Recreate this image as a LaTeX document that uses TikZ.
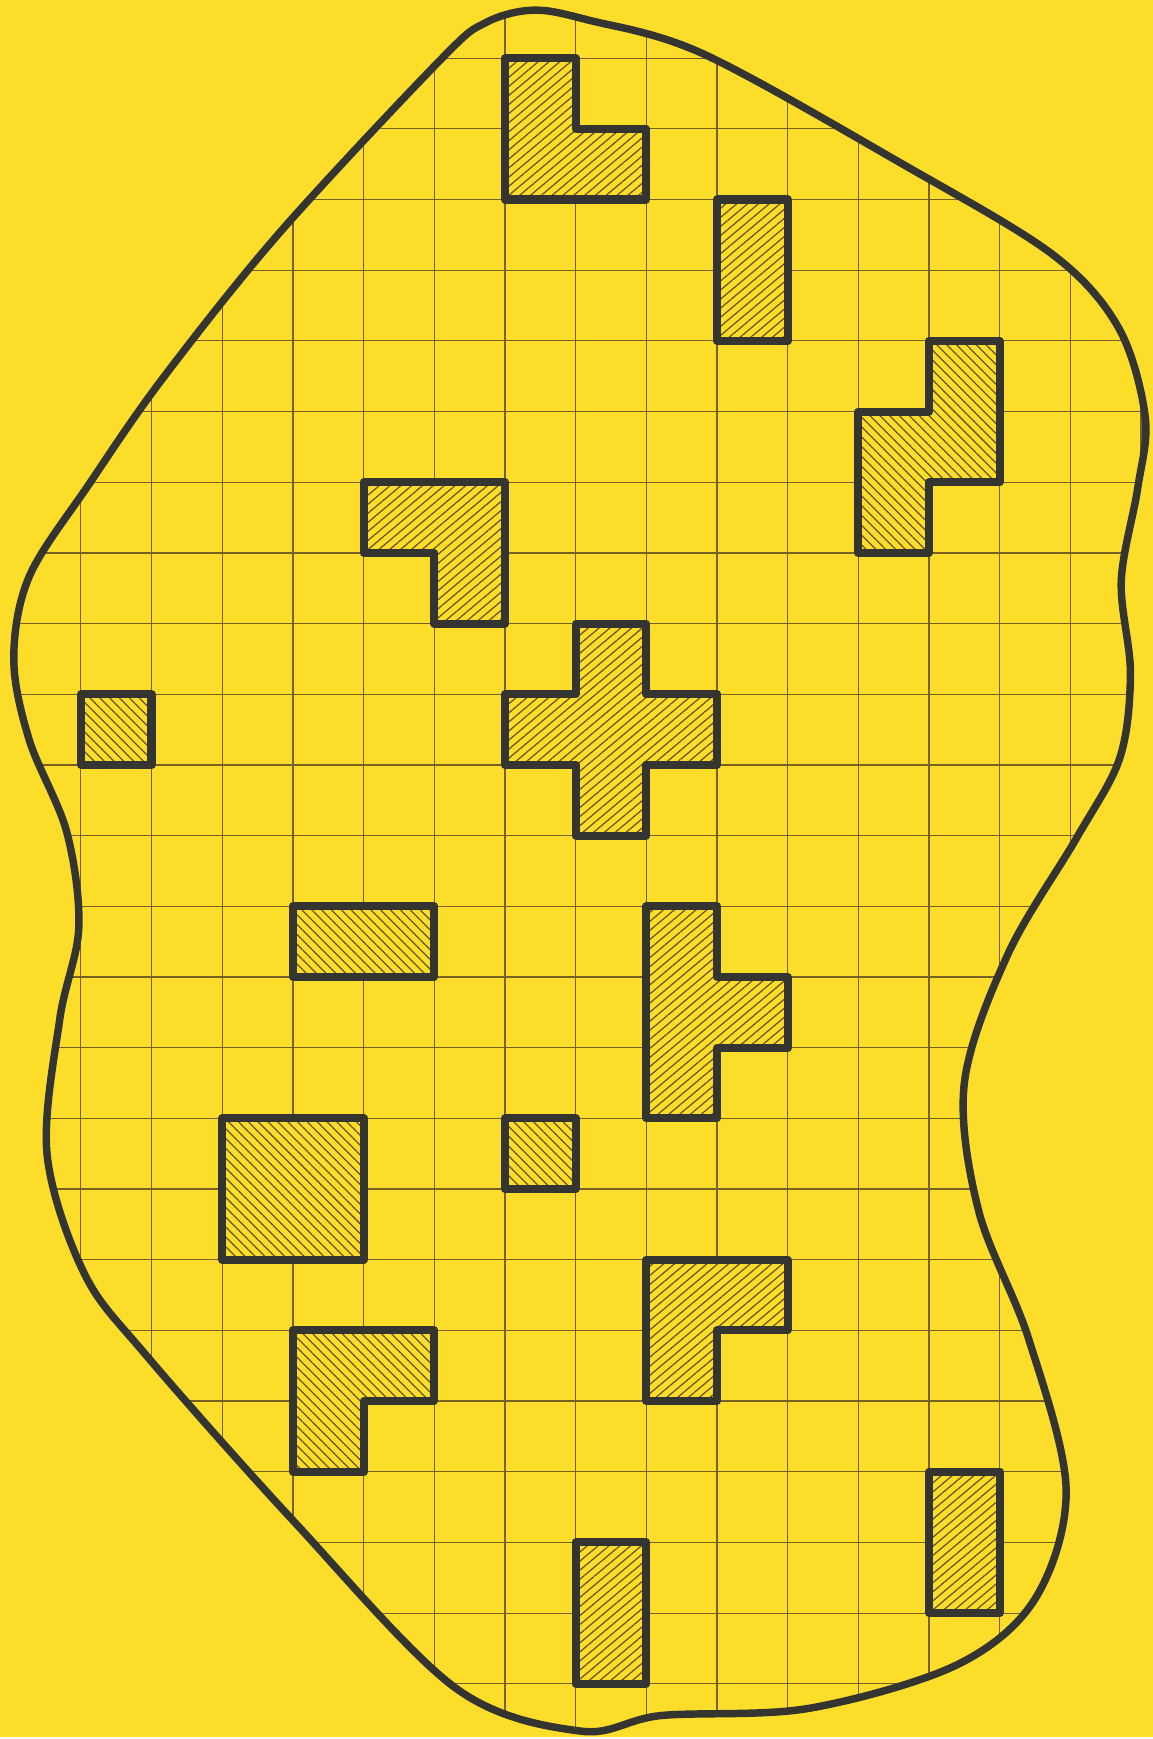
\documentclass[tikz,border=0pt]{standalone}
\usetikzlibrary{patterns.meta}
\definecolor{paper}{RGB}{252,222,42}
\definecolor{ink}{RGB}{52,52,48}
\definecolor{rule}{RGB}{120,95,35}
\definecolor{hatch}{RGB}{105,82,25}
\newcommand\blobline{plot[smooth cycle,tension=0.55] coordinates {
  (6.4,0.68) (7.18,0.54) (8.81,0.06) (11.63,-1.5) (13.74,-2.77) (14.68,-3.81)
  (15.06,-5.08) (14.95,-6.1) (14.72,-7.4) (14.85,-8.7) (14.7,-9.9) (14.09,-11.03)
  (13.12,-12.67) (12.5,-14.5) (12.7,-16.3) (13.41,-18.12) (13.94,-20.24)
  (13.5,-21.8) (12.38,-22.74) (10.29,-23.35) (8.21,-23.45) (7.07,-23.67)
  (5.3,-23.06) (3.01,-20.7) (0.93,-18.36) (0.05,-17.2) (-0.48,-15.5)
  (-0.3,-13.6) (-0.03,-12.3) (-0.2,-10.95) (-0.73,-9.65) (-0.95,-8.5)
  (-0.73,-7.33) (0.12,-6.02) (1.15,-4.54) (2.81,-2.47) (5.09,-0.02) (5.72,0.5)}}
\begin{document}
\begin{tikzpicture}[line join=round,
  piece/.style={draw=ink,line width=3.3pt,preaction={fill=paper},pattern color=hatch},
  pieceR/.style={piece,pattern={Lines[angle=40,distance=2.8pt,line width=0.5pt]}},
  pieceL/.style={piece,pattern={Lines[angle=-45,distance=2.8pt,line width=0.5pt]}}]
  \fill[paper] (-1.145,0.824) rectangle (15.166,-23.755);
  \begin{scope}
    \clip \blobline;
    \draw[rule,line width=0.45pt] (-2,-25) grid (16,1);
  \end{scope}
  \draw[ink,line width=3pt] \blobline;
  \draw[pieceR] (6,0) -- (7,0) -- (7,-1) -- (8,-1) -- (8,-2) -- (6,-2) -- cycle;
  \draw[pieceR] (9,-2) rectangle (10,-4);
  \draw[pieceL] (12,-4) -- (13,-4) -- (13,-6) -- (12,-6) -- (12,-7) -- (11,-7) -- (11,-5) -- (12,-5) -- cycle;
  \draw[pieceR] (4,-6) -- (6,-6) -- (6,-8) -- (5,-8) -- (5,-7) -- (4,-7) -- cycle;
  \draw[pieceR] (7,-8) -- (8,-8) -- (8,-9) -- (9,-9) -- (9,-10) -- (8,-10) -- (8,-11)
    -- (7,-11) -- (7,-10) -- (6,-10) -- (6,-9) -- (7,-9) -- cycle;
  \draw[pieceL] (0,-9) rectangle (1,-10);
  \draw[pieceL] (3,-12) rectangle (5,-13);
  \draw[pieceR] (8,-12) -- (9,-12) -- (9,-13) -- (10,-13) -- (10,-14) -- (9,-14) -- (9,-15) -- (8,-15) -- cycle;
  \draw[pieceL] (2,-15) rectangle (4,-17);
  \draw[pieceL] (6,-15) rectangle (7,-16);
  \draw[pieceR] (8,-17) -- (10,-17) -- (10,-18) -- (9,-18) -- (9,-19) -- (8,-19) -- cycle;
  \draw[pieceL] (3,-18) -- (5,-18) -- (5,-19) -- (4,-19) -- (4,-20) -- (3,-20) -- cycle;
  \draw[pieceR] (12,-20) rectangle (13,-22);
  \draw[pieceR] (7,-21) rectangle (8,-23);
\end{tikzpicture}
\end{document}
